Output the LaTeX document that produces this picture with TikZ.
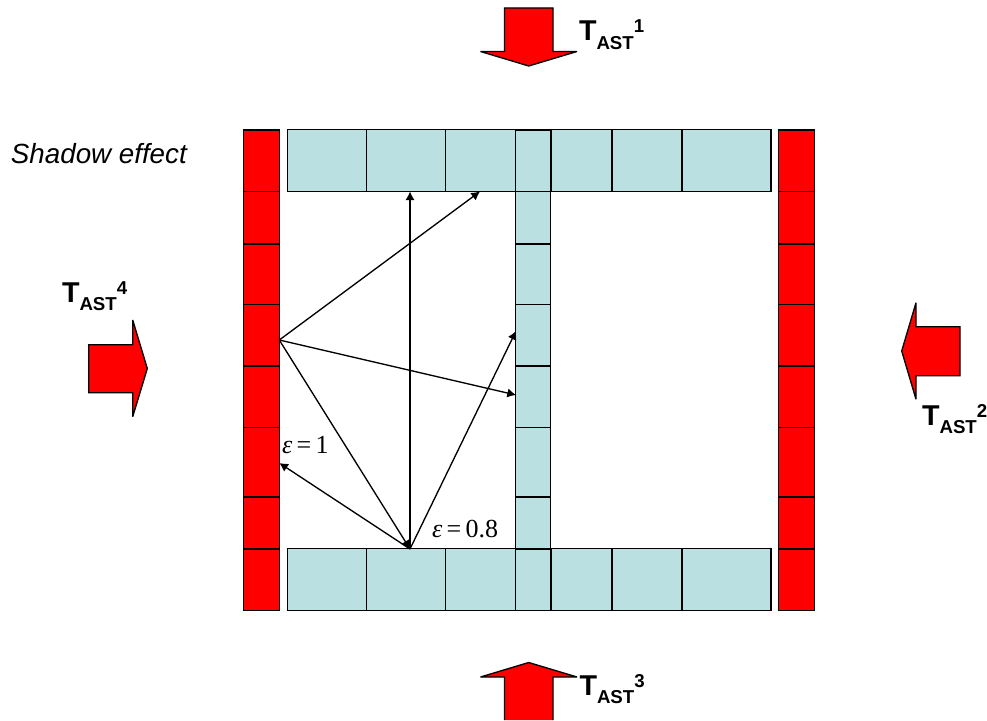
\documentclass[tikz,border=0pt]{standalone}
\usepackage{fontspec}
\setmainfont{Liberation Serif}
\setsansfont{Liberation Sans}
\usetikzlibrary{arrows.meta}
\definecolor{cellblue}{HTML}{BAE0E2}
\newcommand{\tast}[1]{\sffamily\bfseries\fontsize{21.5}{21.5}\selectfont T\raisebox{-6.5pt}{\fontsize{14}{14}\selectfont AST}\raisebox{6pt}{\fontsize{14}{14}\selectfont #1}}
\newcommand{\emiss}[1]{\fontsize{19.5}{19.5}\selectfont\textit{ε}\,=\,#1}
\tikzset{
	redcell/.style={rectangle, draw=black, fill=red, line width=0.9pt, inner sep=0pt, outer sep=0pt},
	bluecell/.style={rectangle, draw=black, fill=cellblue, line width=0.8pt, inner sep=0pt, outer sep=0pt},
	fatarrow/.style={draw=black, fill=red, line width=1pt, line join=miter, miter limit=2},
	ray/.style={-{Latex[length=6.5pt,width=7pt]}, line width=1pt},
	label/.style={inner sep=0pt, outer sep=0pt, anchor=base west}
}
\begin{document}
\begin{tikzpicture}[x=0.75pt, y=-0.75pt]
	\useasboundingbox (0,0) rectangle (987,720);
	% red walls
	\foreach \a/\b [count=\i] in {130/191.5, 191.5/244, 244/304.5, 304.5/366, 366/427.5, 427.5/497, 497/549, 549/610.5} {
		\node (wallL\i) [redcell, minimum width=36*0.75pt, minimum height={(\b-\a)*0.75pt}] at (261.3,{(\a+\b)/2}) {};
		\node (wallR\i) [redcell, minimum width=36*0.75pt, minimum height={(\b-\a)*0.75pt}] at (796.3,{(\a+\b)/2}) {};
	}
	% top and bottom plates
	\foreach \a/\b [count=\i] in {287.3/366.7, 366.7/445.7, 445.7/516, 516/551, 551/612, 612/682, 682/771} {
		\node (plateT\i) [bluecell, minimum width={(\b-\a)*0.75pt}, minimum height=61.5*0.75pt] at ({(\a+\b)/2},160.7) {};
		\node (plateB\i) [bluecell, minimum width={(\b-\a)*0.75pt}, minimum height=61.5*0.75pt] at ({(\a+\b)/2},579.7) {};
	}
	% central column
	\foreach \a/\b [count=\i] in {130/191.5, 191.5/244, 244/304.5, 304.5/366, 366/427.5, 427.5/497, 497/549, 549/610.5} {
		\node (col\i) [bluecell, minimum width=35*0.75pt, minimum height={(\b-\a)*0.75pt}] at (533.3,{(\a+\b)/2}) {};
	}

	\coordinate (src) at (279.3,340);
	\coordinate (spot) at (410,549);
	\coordinate (hitA) at (480,191.5);
	\coordinate (hitB) at (516,395);
	\coordinate (hitC) at (410,191.5);
	\coordinate (hitD) at (516,331);
	\coordinate (hitE) at (279.3,463);

	\draw [ray] (src) -- (hitA);
	\draw [ray] (src) -- (hitB);
	\draw [ray] (src) -- (spot);
	\draw [ray] (spot) -- (hitC);
	\draw [ray] (spot) -- (hitD);
	\draw [ray] (spot) -- (hitE);

	% flux arrows
	\draw [fatarrow] (504.5,8) -- (553,8) -- (553,51.5) -- (577,51.5) -- (528.7,66) -- (480.5,51.5) -- (504.5,51.5) -- cycle;
	\draw [fatarrow] (504.5,720) -- (504.5,677) -- (480.5,677) -- (528.7,662.5) -- (577,677) -- (553,677) -- (553,720);
	\draw [fatarrow] (88.7,344.7) -- (132.7,344.7) -- (132.7,320) -- (147.3,368.5) -- (132.7,416.7) -- (132.7,392.7) -- (88.7,392.7) -- cycle;
	\draw [fatarrow] (960,326.7) -- (916,326.7) -- (916,302.7) -- (901.7,351) -- (916,399.3) -- (916,375.7) -- (960,375.7) -- cycle;

	\node (flux1) [label] at (579,41) {\tast{1}};
	\node (flux2) [label] at (922,425) {\tast{2}};
	\node (flux3) [label] at (579.5,695) {\tast{3}};
	\node (flux4) [label] at (62,302) {\tast{4}};

	\node (shadow) [label] at (11,164) {\sffamily\itshape\fontsize{20.8}{20.8}\selectfont Shadow effect};
	\node (epsA) [label] at (282,453) {\emiss{1}};
	\node (epsB) [label] at (432,537) {\emiss{0.8}};
\end{tikzpicture}
\end{document}
